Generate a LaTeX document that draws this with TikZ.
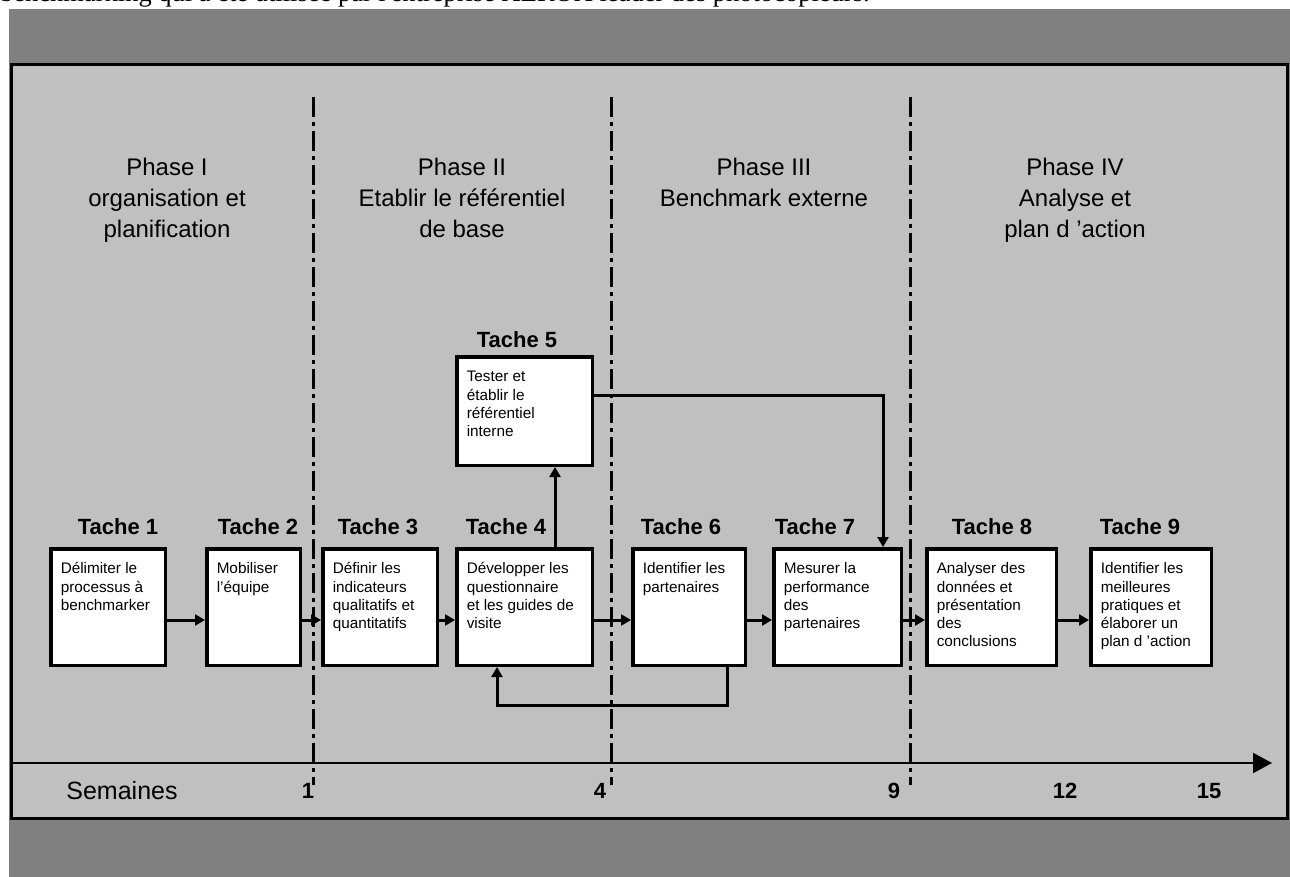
\documentclass[tikz,border=0pt]{standalone}
\usepackage{fontspec}
\setmainfont{Liberation Sans}
\newfontfamily\serifdoc{Liberation Serif}
\usetikzlibrary{arrows.meta}
\definecolor{outergray}{HTML}{808080}
\definecolor{panelgray}{HTML}{C0C0C0}
\newcommand{\boxfont}{\fontsize{15.3}{18.3}\selectfont}
\newcommand{\taskbox}[6]{%
  \node[task, minimum width={#4-3.5}, minimum height={#5-3.5}] (#1) at (#2,#3)
  {\parbox[c][\dimexpr#5pt-23.5pt\relax][t]{\dimexpr#4pt-23.5pt\relax}{\raggedright\boxfont\rule{0pt}{15pt}#6}};}
\begin{document}
\begin{tikzpicture}[x=1pt,y=-1pt,
  task/.style={draw=black, line width=3.5pt, fill=white, rectangle,
    inner xsep=10pt, inner ysep=10pt, anchor=north west},
  tlabel/.style={font=\fontsize{22}{26}\selectfont\bfseries, inner sep=0pt},
  phase/.style={font=\fontsize{24}{31}\selectfont, align=center, inner sep=0pt, anchor=north},
  arr/.style={line width=3pt, -{Triangle[length=10pt,width=11pt]}},
  phasesep/.style={line width=3pt, dash pattern=on 20pt off 5pt on 4pt off 5pt},
  week/.style={font=\fontsize{22}{26}\selectfont\bfseries, inner sep=0pt},
  axisline/.style={line width=2.2pt, -{Triangle[length=19pt,width=20pt]}}]

\useasboundingbox (0,0) rectangle (1290,877);
\fill[white] (0,0) rectangle (1290,877);
\begin{scope}
  \clip (0,0) rectangle (1290,877);
  \node[anchor=base west, inner sep=0pt, font=\serifdoc\fontsize{26.5}{30}\selectfont] (caption) at (0,1.5)
    {benchmarking qui a été utilisée par l'entreprise XEROX leader des photocopieurs.};
\end{scope}

% background panels
\fill[outergray] (9,9) rectangle (1290,877);
\draw[line width=3pt, fill=panelgray] (11.5,64.5) rectangle (1287.5,818);

% phase separators
\draw[phasesep] (313,97) -- (313,785);
\draw[phasesep] (611,97) -- (611,785);
\draw[phasesep] (910,97) -- (910,785);

% phase titles
\node[phase] (ph1) at (167,158) {Phase I\\organisation et\\planification};
\node[phase] (ph2) at (462,158) {Phase II\\Etablir le référentiel\\de base};
\node[phase] (ph3) at (764,158) {Phase III\\Benchmark externe};
\node[phase] (ph4) at (1075,158) {Phase IV\\Analyse et\\plan d 'action};

% task boxes
\taskbox{t1}{49}{547}{118}{120}{Délimiter le\\processus à\\benchmarker}
\taskbox{t2}{205}{547}{97}{120}{Mobiliser\\l'équipe}
\taskbox{t3}{321}{547}{118}{120}{Définir les\\indicateurs\\qualitatifs et\\quantitatifs}
\taskbox{t4}{455}{547}{139}{120}{Développer les\\questionnaire\\et les guides de\\visite}
\taskbox{t5}{455}{355}{139}{112}{Tester et\\établir le\\référentiel\\interne}
\taskbox{t6}{631}{547}{116}{120}{Identifier les\\partenaires}
\taskbox{t7}{772}{547}{131}{120}{Mesurer la\\performance\\des\\partenaires}
\taskbox{t8}{925}{547}{133}{120}{Analyser des\\données et\\présentation\\des\\conclusions}
\taskbox{t9}{1089}{547}{124}{120}{Identifier les\\meilleures\\pratiques et\\élaborer un\\plan d 'action}

% task labels
\node[tlabel] (l1) at (118,527) {Tache 1};
\node[tlabel] (l2) at (258,527) {Tache 2};
\node[tlabel] (l3) at (378,527) {Tache 3};
\node[tlabel] (l4) at (506,527) {Tache 4};
\node[tlabel] (l5) at (517,340) {Tache 5};
\node[tlabel] (l6) at (681,527) {Tache 6};
\node[tlabel] (l7) at (815,527) {Tache 7};
\node[tlabel] (l8) at (992,527) {Tache 8};
\node[tlabel] (l9) at (1140,527) {Tache 9};

% sequence arrows
\foreach \a/\b in {t1/t2,t2/t3,t3/t4,t4/t6,t6/t7,t7/t8,t8/t9}
  \draw[arr] ([yshift=-13pt]\a.east) -- ([yshift=-13pt]\b.west);

% t4 -> t5
\draw[arr] ([xshift=30.5pt]t4.north) -- ([xshift=30.5pt]t5.south);

% t5 -> t7
\coordinate (c5) at ([yshift=16pt]t5.east);
\coordinate (c7) at ([xshift=45.5pt]t7.north);
\draw[arr] (c5) -| (c7);

% t6 -> t4 feedback
\coordinate (loop) at (0,705);
\coordinate (c6) at ([xshift=38pt]t6.south);
\coordinate (c4) at ([xshift=-27.5pt]t4.south);
\draw[arr] (c6) -- (c6 |- loop) -| (c4);

% time axis
\coordinate (axL) at (12,763);
\coordinate (axR) at (1272,763);
\draw[axisline] (axL) -- (axR);
\node[font=\fontsize{25}{28}\selectfont, inner sep=0pt] (sem) at (122,791) {Semaines};
\node[week] (w1) at (308,791) {1};
\node[week] (w4) at (600,791) {4};
\node[week] (w9) at (894,791) {9};
\node[week] (w12) at (1065,791) {12};
\node[week] (w15) at (1209,791) {15};
\end{tikzpicture}
\end{document}
